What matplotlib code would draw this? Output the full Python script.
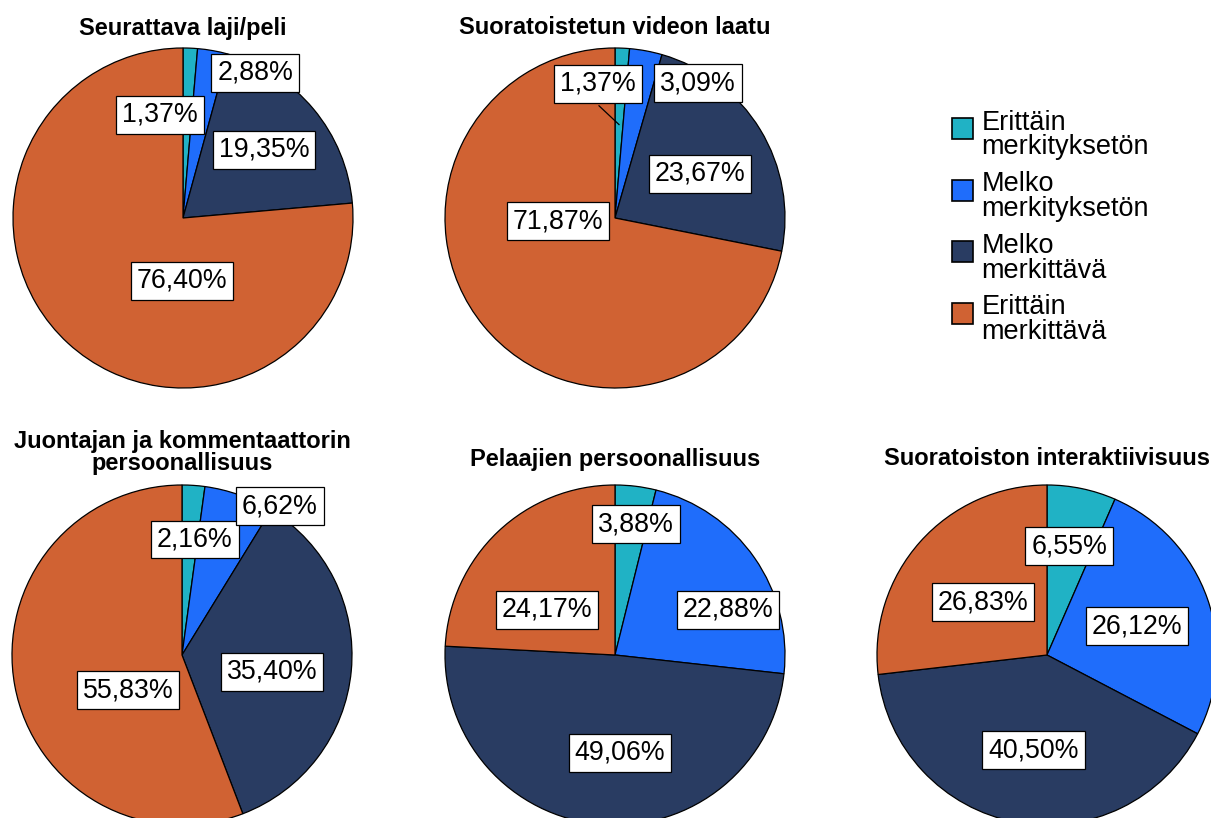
import matplotlib
matplotlib.use("Agg")
import matplotlib.pyplot as plt
from matplotlib.patches import Patch, Rectangle
from matplotlib.legend_handler import HandlerPatch
import numpy as np

plt.rcParams['font.family'] = ['Liberation Sans', 'DejaVu Sans']

W, H = 1211, 818

categories = ['Erittäin\nmerkityksetön', 'Melko\nmerkityksetön',
              'Melko\nmerkittävä', 'Erittäin\nmerkittävä']
colors = ['#20B2C5', '#1F6DFB', '#293C62', '#D06233']

titles = ['Seurattava laji/peli',
          'Suoratoistetun videon laatu',
          'Juontajan ja kommentaattorin\npersoonallisuus',
          'Pelaajien persoonallisuus',
          'Suoratoiston interaktiivisuus']

laji = [1.37, 2.88, 19.35, 76.40]
laatu = [1.37, 3.09, 23.67, 71.87]
juontaja = [2.16, 6.62, 35.40, 55.83]
pelaajat = [3.88, 22.88, 49.06, 24.17]
interaktiivisuus = [6.55, 26.12, 40.50, 26.83]
series = [laji, laatu, juontaja, pelaajat, interaktiivisuus]

# pie centres in pixels from top-left, shared radius
centers = [(183, 218), (615, 218), (182, 655), (615, 655), (1047, 655)]
R = 170
title_y = [35, 34, 470, 466, 465]

# label box offsets from the centre, in units of radius (same order as the values)
label_pos = [
    [(-0.135, 0.606), (0.424, 0.853), (0.476, 0.40), (-0.006, -0.37)],
    [(-0.10, 0.79), (0.488, 0.794), (0.50, 0.26), (-0.335, -0.018)],
    [(0.076, 0.68), (0.576, 0.876), (0.53, -0.10), (-0.318, -0.206)],
    [(0.124, 0.77), (0.665, 0.265), (0.03, -0.576), (-0.40, 0.265)],
    [(0.13, 0.64), (0.53, 0.17), (-0.08, -0.56), (-0.376, 0.31)],
]

fig = plt.figure(figsize=(W / 100, H / 100), dpi=100)
ax = fig.add_axes([0, 0, 1, 1])

for vals, (cx, cy), title, ty, lpos in zip(series, centers, titles, title_y, label_pos):
    c = (cx, H - cy)
    ax.pie(vals, colors=colors, startangle=90, counterclock=False,
           center=c, radius=R, frame=True,
           wedgeprops=dict(edgecolor='black', linewidth=0.9))
    for v, (fx, fy) in zip(vals, lpos):
        ax.text(c[0] + fx * R, c[1] + fy * R, f"{v:.2f}".replace('.', ',') + '%',
                ha='center', va='center', fontsize=19.3, zorder=5,
                bbox=dict(boxstyle='square,pad=0.22', facecolor='white',
                          edgecolor='black', linewidth=0.9))
    ax.text(cx, H - ty, title, ha='center', va='baseline', fontsize=17,
            fontweight='bold', linespacing=0.95)

# leader line for the thin slice in the second pie
cx, cy = centers[1]
mid = np.deg2rad(90 - laatu[0] / 2 * 3.6)
ax.plot([cx - 0.094 * R, cx + 0.55 * R * np.cos(mid)],
        [H - cy + 0.66 * R, H - cy + 0.55 * R * np.sin(mid)],
        color='black', linewidth=0.9, zorder=4)


# legend squares sit a little above the middle of the two-line labels
def raised_square(legend, orig_handle, xdescent, ydescent, width, height, fontsize):
    return Rectangle((-xdescent, -ydescent + 5), width, height)


handles = [Patch(facecolor=col, edgecolor='black', linewidth=1.2) for col in colors]
leg = ax.legend(handles, categories, loc='upper left',
                bbox_to_anchor=(938, H - 96), bbox_transform=ax.transData,
                frameon=False, fontsize=19.5, borderpad=0, labelspacing=0.4,
                handlelength=0.8, handleheight=0.8, handletextpad=0.3,
                handler_map={Patch: HandlerPatch(patch_func=raised_square)})
for t in leg.get_texts():
    t.set_linespacing(0.94)

ax.set_xlim(0, W)
ax.set_ylim(0, H)
ax.set_aspect('equal')
ax.axis('off')

fig.savefig('out.png', dpi=100, facecolor='white')
